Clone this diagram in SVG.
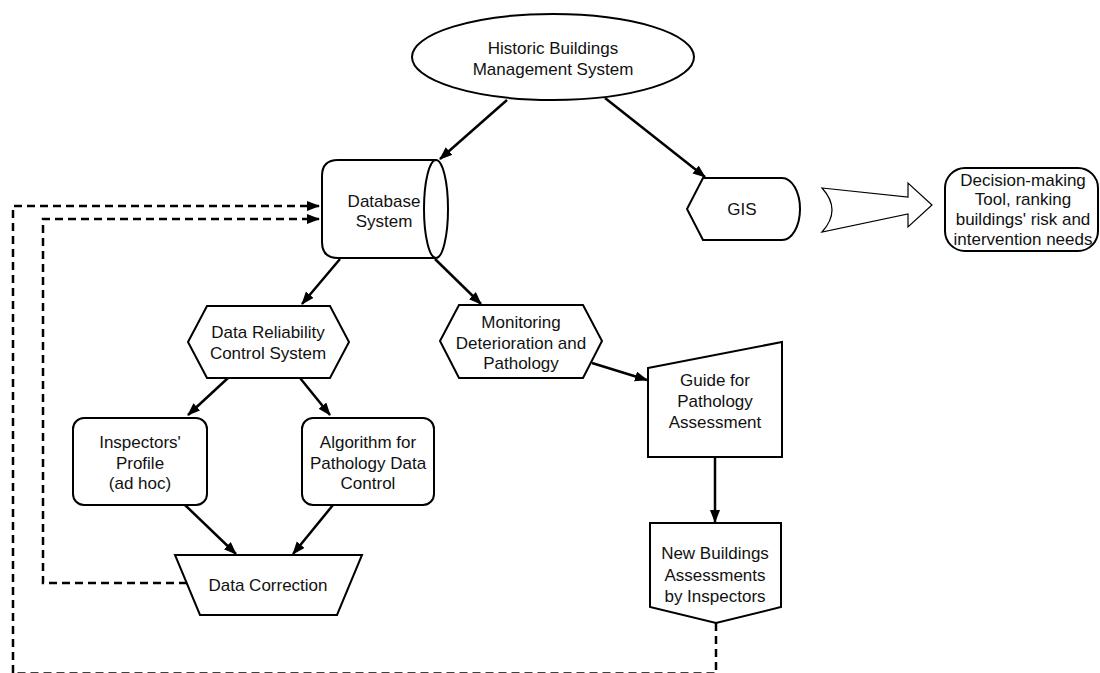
<svg xmlns="http://www.w3.org/2000/svg" width="1100" height="673" viewBox="0 0 1100 673">
<defs>
<style>
.shape{fill:#fff;stroke:#000;stroke-width:2}
.thin{fill:#fff;stroke:#000;stroke-width:1.2}
.conn{fill:none;stroke:#000;stroke-width:2.5}
.dash{fill:none;stroke:#000;stroke-width:2.5;stroke-dasharray:8 5}
text{font-family:"Liberation Sans",Arial,Helvetica,sans-serif;font-size:17px;fill:#111;text-anchor:middle}
</style>
<marker id="ah" markerUnits="userSpaceOnUse" markerWidth="14" markerHeight="12" refX="12" refY="5" orient="auto">
<path d="M0,0 L13,5 L0,10 Z" fill="#000"/>
</marker>
</defs>
<rect width="1100" height="673" fill="#fff"/>

<g id="connectors">
<line class="conn" x1="507" y1="100" x2="440" y2="159" marker-end="url(#ah)"/>
<line class="conn" x1="605" y1="98" x2="705" y2="177" marker-end="url(#ah)"/>
<line class="conn" x1="340" y1="259" x2="302" y2="304" marker-end="url(#ah)"/>
<line class="conn" x1="435" y1="259" x2="481" y2="304" marker-end="url(#ah)"/>
<line class="conn" x1="228" y1="378" x2="188" y2="415" marker-end="url(#ah)"/>
<line class="conn" x1="300" y1="378" x2="330" y2="415" marker-end="url(#ah)"/>
<line class="conn" x1="185" y1="505" x2="236" y2="554" marker-end="url(#ah)"/>
<line class="conn" x1="333" y1="505" x2="293" y2="554" marker-end="url(#ah)"/>
<line class="conn" x1="592" y1="363" x2="647" y2="380" marker-end="url(#ah)"/>
<line class="conn" x1="715" y1="457" x2="715" y2="522" marker-end="url(#ah)"/>
<path class="dash" d="M716,623 L716,673.5 L13,673.5 L13,206 L319,206" marker-end="url(#ah)"/>
<path class="dash" d="M187,583 L43,583 L43,219 L319,219" marker-end="url(#ah)"/>
<path class="thin" d="M822,188 L908,197 L908,183 L932,205 L908,227 L908,214 L822,232 Q842,210 822,188 Z"/>
</g>

<g id="hbms">
<ellipse class="shape" cx="553" cy="57" rx="141" ry="43"/>
<text x="553" y="54">Historic Buildings</text>
<text x="553" y="75">Management System</text>
</g>

<g id="database">
<path class="shape" d="M436,160 L338,160 Q322,160 322,176 L322,242 Q322,258 338,258 L436,258"/>
<ellipse class="shape" cx="436" cy="209" rx="12" ry="49"/>
<text x="384" y="207">Database</text>
<text x="384" y="227">System</text>
</g>

<g id="gis">
<path class="shape" d="M687,209 L703,178 L782,178 A18,31 0 0 1 782,240 L703,240 Z"/>
<text x="742" y="215">GIS</text>
</g>

<g id="decision">
<rect class="shape" x="945" y="168" width="153" height="83" rx="20"/>
<text x="1023" y="186">Decision-making</text>
<text x="1023" y="205">Tool, ranking</text>
<text x="1023" y="225">buildings' risk and</text>
<text x="1023" y="245">intervention needs</text>
</g>

<g id="reliability">
<polygon class="shape" points="188,342 207,306 330,306 349,342 330,378 207,378"/>
<text x="268" y="338">Data Reliability</text>
<text x="268" y="359">Control System</text>
</g>

<g id="monitoring">
<polygon class="shape" points="440,341 459,305 583,305 602,341 583,378 459,378"/>
<text x="521" y="328">Monitoring</text>
<text x="521" y="349">Deterioration and</text>
<text x="521" y="369">Pathology</text>
</g>

<g id="guide">
<polygon class="shape" points="648,368 782,342 782,457 648,457"/>
<text x="715" y="386">Guide for</text>
<text x="715" y="407">Pathology</text>
<text x="715" y="428">Assessment</text>
</g>

<g id="newassess">
<polygon class="shape" points="650,523 781,523 781,607 716,623 650,607"/>
<text x="715" y="559">New Buildings</text>
<text x="715" y="581">Assessments</text>
<text x="715" y="602">by Inspectors</text>
</g>

<g id="inspectors">
<rect class="shape" x="73" y="418" width="134" height="87" rx="11"/>
<text x="140" y="448">Inspectors'</text>
<text x="140" y="469">Profile</text>
<text x="140" y="489">(ad hoc)</text>
</g>

<g id="algorithm">
<rect class="shape" x="302" y="418" width="132" height="87" rx="11"/>
<text x="368" y="448">Algorithm for</text>
<text x="368" y="469">Pathology Data</text>
<text x="368" y="489">Control</text>
</g>

<g id="correction">
<polygon class="shape" points="175,555 362,555 337,615 200,615"/>
<text x="268" y="591">Data Correction</text>
</g>
</svg>
